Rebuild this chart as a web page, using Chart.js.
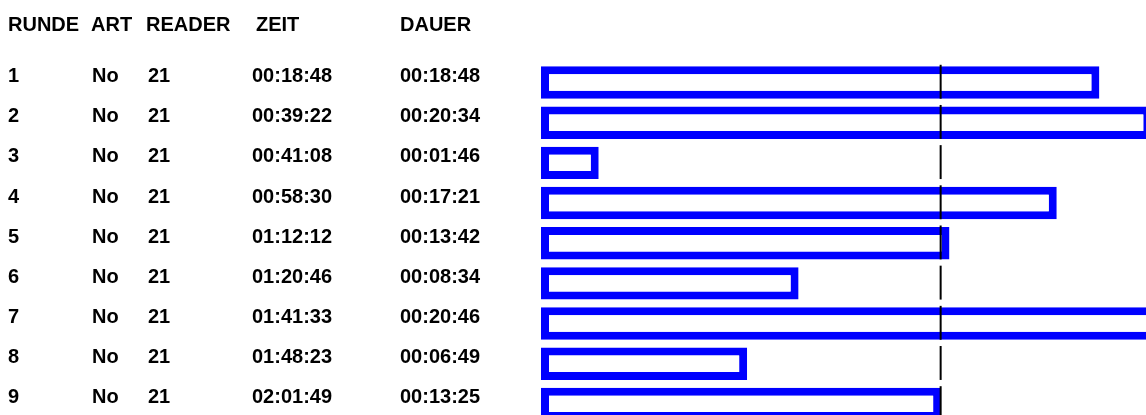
<!DOCTYPE html>
<html lang="de">
<head>
<meta charset="utf-8">
<title>Rundenzeiten</title>
<script src="https://cdn.jsdelivr.net/npm/chart.js@4.4.1/dist/chart.umd.min.js"></script>
<style>
  html, body { margin: 0; padding: 0; background: #ffffff; overflow: hidden; }
  #wrap { position: relative; width: 1146px; height: 415px; overflow: hidden; }
  /* die letzte Zeile läuft unten über den sichtbaren Rand hinaus */
  #inner { position: absolute; left: 0; top: 0; width: 1146px; height: 424px; }
</style>
</head>
<body>
<div id="wrap"><div id="inner"><canvas id="laps"></canvas></div></div>
<script>
// Rundentabelle
const headers = ['RUNDE', 'ART', 'READER', 'ZEIT', 'DAUER'];
const runden  = ['1', '2', '3', '4', '5', '6', '7', '8', '9'];
const arten   = ['No', 'No', 'No', 'No', 'No', 'No', 'No', 'No', 'No'];
const reader  = ['21', '21', '21', '21', '21', '21', '21', '21', '21'];
const zeiten  = ['00:18:48', '00:39:22', '00:41:08', '00:58:30', '01:12:12',
                 '01:20:46', '01:41:33', '01:48:23', '02:01:49'];
const dauer   = ['00:18:48', '00:20:34', '00:01:46', '00:17:21', '00:13:42',
                 '00:08:34', '00:20:46', '00:06:49', '00:13:25'];
// Richtwert (Sekunden) für die gestrichelte Linie
const markerSeconds = 804;

// hh:mm:ss -> Sekunden
function toSeconds(t) {
  const [h, m, s] = t.split(':').map(Number);
  return h * 3600 + m * 60 + s;
}
const dauerSek = dauer.map(toSeconds);

const headerX = [8, 91, 146, 256, 400];
const cellX   = [8, 92, 148, 252, 400];
const FONT = 'bold 20px "Liberation Sans", Arial, Helvetica, sans-serif';

// Tabelle links neben den Balken
const tablePlugin = {
  id: 'lapTable',
  afterDraw(chart) {
    const ctx = chart.ctx;
    const y = chart.scales.y;
    ctx.save();
    ctx.font = FONT;
    ctx.fillStyle = '#000000';
    ctx.textAlign = 'left';
    ctx.textBaseline = 'middle';
    headers.forEach((h, i) => ctx.fillText(h, headerX[i], 25));
    runden.forEach((r, i) => {
      const cy = y.getPixelForValue(i) - 6;
      [r, arten[i], reader[i], zeiten[i], dauer[i]]
        .forEach((txt, c) => ctx.fillText(txt, cellX[c], cy));
    });
    ctx.restore();
  }
};

// gestrichelte Richtwert-Linie, ein Strich je Balkenzeile
const markerPlugin = {
  id: 'markerLine',
  afterDatasetsDraw(chart) {
    const ctx = chart.ctx;
    const xPix = chart.scales.x.getPixelForValue(markerSeconds);
    const meta = chart.getDatasetMeta(0);
    ctx.save();
    ctx.strokeStyle = '#000000';
    ctx.lineWidth = 2;
    meta.data.forEach(bar => {
      const top = bar.y - bar.height / 2 - 1.5;
      const bottom = bar.y + bar.height / 2;
      ctx.beginPath();
      ctx.moveTo(xPix, top);
      ctx.lineTo(xPix, bottom);
      ctx.stroke();
    });
    ctx.restore();
  }
};

new Chart(document.getElementById('laps'), {
  type: 'bar',
  data: {
    labels: runden,
    datasets: [{
      label: 'Dauer',
      data: dauerSek,
      base: -11.8,
      backgroundColor: '#ffffff',
      borderColor: '#0000ff',
      borderWidth: 8,
      borderSkipped: false,
      barPercentage: 0.807,
      categoryPercentage: 1
    }]
  },
  options: {
    indexAxis: 'y',
    responsive: true,
    maintainAspectRatio: false,
    animation: false,
    events: [],
    layout: { padding: { left: 541, right: 0, top: 62.4, bottom: 0 } },
    scales: {
      x: { type: 'linear', display: false, min: -11.8, max: 1223.2 },
      y: { display: false, offset: true }
    },
    plugins: {
      legend: { display: false },
      tooltip: { enabled: false },
      title: { display: false }
    }
  },
  plugins: [tablePlugin, markerPlugin]
});
</script>
</body>
</html>
